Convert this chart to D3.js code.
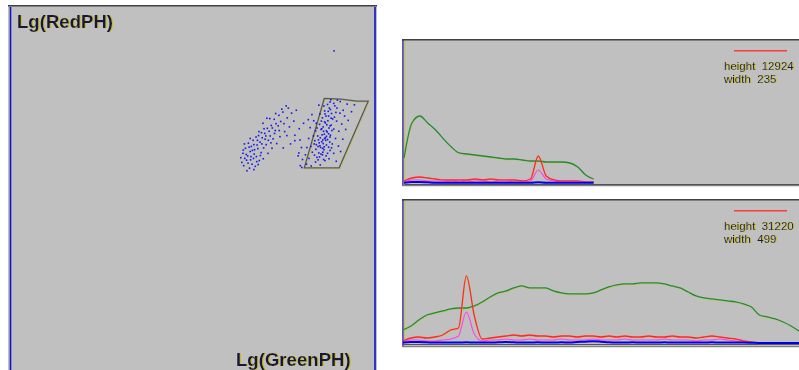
<!DOCTYPE html>
<html><head><meta charset="utf-8">
<script src="https://cdn.jsdelivr.net/npm/d3@7"></script>
<style>html,body{margin:0;padding:0;background:#fff;overflow:hidden}</style>
</head><body><svg id="c" width="799" height="370" xmlns="http://www.w3.org/2000/svg"></svg>
<script>
// ---------- DATA ----------
const xLabel = "Lg(GreenPH)";
const yLabel = "Lg(RedPH)";

// scatter (Lg(GreenPH), Lg(RedPH)) in % of full scale
const clusterA = [[64.1,55.9],[65.7,55.2],[63.6,56.8],[66.4,56.3],[64.9,57.4],[67.3,55.7],[65.2,58.6],[63.9,59.3],[66.8,57.9],[65.9,59.8],[67.6,58.4],[64.6,60.7],[66.2,61.2],[68.4,57.3],[67.1,60.3],[68.9,59.5],[65.4,62.1],[67.8,61.6],[69.6,60.8],[66.7,62.9],[68.6,62.4],[70.3,61.7],[64.3,61.9],[69.2,63.6],[67.5,63.8],[70.9,62.9],[71.4,64.1],[68.3,65.3],[69.9,64.8],[72.2,63.3],[70.6,66.2],[72.8,65.6],[71.7,67.0],[73.6,66.9],[69.4,67.6],[74.3,68.1],[72.5,68.7],[75.2,67.5],[73.8,69.8],[76.1,69.1],[74.9,70.7],[77.3,70.4],[76.4,71.8],[78.6,71.2],[75.8,72.4],[65.0,54.5],[66.9,54.8],[68.1,56.2],[69.5,57.8],[70.8,59.3],[71.9,60.7],[73.2,62.0],[74.1,63.9],[75.4,65.3],[76.7,66.6],[63.3,58.1],[64.8,59.0],[66.0,57.5],[67.0,59.1],[68.0,60.6],[69.1,61.9],[70.0,63.2],[71.1,65.4],[72.0,66.3],[73.0,67.5],[66.5,60.1],[65.6,61.0],[67.9,62.9],[69.7,66.1],[71.3,68.9],[72.9,70.3],[70.5,69.0],[74.6,71.5],[77.9,68.2],[76.0,64.2],[78.2,62.8],[79.4,66.1],[80.0,60.9],[79.1,58.6],[77.0,61.9],[75.0,60.8],[64.4,57.9],[65.3,56.6],[66.1,58.4],[67.7,57.0],[68.7,58.7],[66.9,61.7],[64.0,60.2],[65.9,63.4],[68.2,64.2],[69.0,65.0],[70.2,64.1],[71.6,62.2],[72.6,64.8],[73.9,65.6]];

const clusterB = [[81.4,56.3],[82.7,55.8],[83.9,56.9],[85.2,56.1],[86.5,57.3],[82.1,57.9],[84.3,58.2],[85.8,58.9],[87.6,57.8],[83.0,59.6],[84.8,59.4],[86.2,60.3],[87.9,60.1],[82.6,61.2],[84.1,61.7],[85.3,60.9],[86.9,61.6],[88.5,61.9],[83.7,62.8],[85.6,62.5],[87.2,63.1],[89.4,63.4],[84.5,64.1],[86.3,64.6],[88.0,64.3],[83.9,65.5],[85.4,65.9],[87.1,65.2],[88.9,66.0],[90.3,65.4],[85.0,67.3],[86.6,67.7],[88.2,67.1],[89.7,68.2],[91.1,67.4],[85.8,69.1],[87.5,69.6],[89.1,69.3],[90.6,70.4],[86.4,71.0],[88.0,71.4],[89.8,71.8],[91.5,71.2],[87.2,72.8],[88.9,73.1],[90.7,73.6],[92.6,72.9],[88.1,74.1],[89.9,74.0],
[84.6,57.5],[85.9,59.6],[86.8,58.6],[84.0,60.4],[85.1,61.4],[86.0,62.0],[86.7,62.9],[85.2,63.6],[86.4,63.4],[87.5,64.7],[86.1,65.4],[87.6,66.3],[86.0,66.6],[87.0,67.2],[88.6,68.8],[87.3,68.3],[86.5,70.2],[88.3,70.3],[84.9,62.2],[86.3,61.1],[87.8,62.4],[85.7,64.4],[84.3,66.3],[86.9,64.0],[88.4,65.6],[87.4,70.9],[89.2,72.4],[85.5,68.2],[84.7,63.0],[83.5,61.9],[83.3,64.1],[84.1,67.6],[85.1,70.2],[86.2,72.4],[87.9,73.5],
[88.9,59.3],[90.2,61.3],[91.4,63.2],[92.2,65.9],[92.9,68.4],[93.8,70.8],[94.6,72.7],[89.6,57.1],[90.8,59.8],[91.9,69.6],
[79.7,55.9],[80.3,57.6],[79.3,59.4],[81.1,58.9],[81.5,60.9],[80.1,55.4],[82.0,63.4],
[78.2,64.3],[79.6,63.0],[80.6,67.6],[81.9,68.6],[82.4,66.4],[82.9,70.0],[83.4,68.3],[84.8,72.6],
[85.4,59.1],[86.1,57.6],[87.2,59.3],[85.9,60.7],[84.6,61.2],[87.5,61.0],[86.6,63.6],[85.9,63.0],[87.9,63.8],[86.9,65.5],[85.6,66.1],[87.9,66.9],[86.4,68.0],[88.2,69.0],[86.8,69.6],[87.7,71.8],[89.5,70.6],[85.0,58.3],[83.6,58.8],[88.3,60.8]];

const outliers = [[89.0,87.6]];

// gate polygon vertices (same % units)
const gate = [[86.3,74.5],[90.9,74.3],[95.3,73.7],[98.4,73.7],[90.4,55.3],[80.8,55.3]];

// histogram 1 (bins 0..24 of 50)
const h1Height = 12924, h1Width = 235;
const h1Green = [2260,5424,6057,5424,4791,3978,3254,2712,2622,2531,2441,2350,2260,2170,2170,2079,1989,1989,1898,1898,1898,1808,1446,723,362];
const h1Red   = [181,452,542,452,362,271,271,271,271,362,271,362,271,271,271,181,362,2441,633,271,181,181,181,90,90];
const h1Pink  = [90,271,271,181,181,181,90,181,90,181,181,90,181,181,90,90,181,1175,362,181,90,90,90,90,60];
const h1Blue  = [30,90,90,60,30,30,30,30,30,30,30,30,30,30,30,30,30,60,30,30,30,30,30,30,30];

// histogram 2 (bins 0..50 of 50)
const h2Height = 31220, h2Width = 499;
const h2Green = [2860,3740,5060,6160,6600,7040,7480,7700,7700,8140,9020,10120,11000,11440,12100,12540,12100,12100,12100,11440,11000,10780,10780,10780,11000,11660,12320,12760,12980,12980,13200,13200,13200,12980,12540,12100,11220,10340,9900,9680,9460,9240,9020,8580,7920,6160,5720,5280,4620,3740,2640];
const h2Red   = [440,1100,1320,1100,1320,1760,2860,3300,14740,6000,880,1100,1320,1540,1760,1540,1760,1540,1540,1320,1540,1540,1320,1540,1540,1320,1540,1320,1540,1320,1320,1540,1320,1320,1540,1320,1320,1100,1320,1540,1320,1100,880,440,220,0,0,0,0,0,0];
const h2Pink  = [220,660,660,440,440,660,880,1540,6820,1980,440,660,660,880,660,660,880,660,660,660,880,660,660,660,880,660,660,660,880,660,660,660,660,880,660,660,660,440,660,660,880,660,440,220,100,0,0,0,0,0,0];
const h2Blue  = [100,200,200,150,100,100,100,100,150,100,100,100,150,200,150,100,100,150,100,100,150,100,200,300,400,300,150,100,100,150,100,100,100,150,100,100,100,100,100,150,100,100,100,100,60,0,0,0,0,0,0];

// ---------- DRAWING ----------
const svg = d3.select("#c");
const FONT = "'Liberation Sans', Arial, sans-serif";
const GRAY = "#c0c0c0";

const defs = svg.append("defs");
const f = defs.append("filter").attr("id", "fringe").attr("x", "-5%").attr("y", "-20%").attr("width", "115%").attr("height", "140%");
f.append("feFlood").attr("flood-color", "#c8c000").attr("result", "fl");
f.append("feComposite").attr("in", "fl").attr("in2", "SourceAlpha").attr("operator", "in").attr("result", "sh");
f.append("feOffset").attr("in", "sh").attr("dx", 0.8).attr("dy", 0.3).attr("result", "of");
const fm = f.append("feMerge");
fm.append("feMergeNode").attr("in", "of");
fm.append("feMergeNode").attr("in", "SourceGraphic");

function panel(x0, y0, x1, y1) {
  const g = svg.append("g");
  g.append("rect").attr("x", x0).attr("y", y0).attr("width", x1 - x0).attr("height", y1 - y0).attr("fill", GRAY);
  g.append("line").attr("x1", x0).attr("x2", x1).attr("y1", y0 + 0.5).attr("y2", y0 + 0.5).attr("stroke", "#404040");
  g.append("line").attr("x1", x0).attr("x2", x1).attr("y1", y0 + 1.5).attr("y2", y0 + 1.5).attr("stroke", "#808080");
  return g;
}

// ---- left scatter panel ----
const L = {x0: 8, y0: 5, x1: 377, y1: 372};
panel(L.x0, L.y0, L.x1, L.y1);
svg.append("line").attr("x1", 10.5).attr("x2", 10.5).attr("y1", L.y0 + 2).attr("y2", 370).attr("stroke", "#1010d0").attr("stroke-width", 1.6);
svg.append("line").attr("x1", 375).attr("x2", 375).attr("y1", L.y0 + 2).attr("y2", 370).attr("stroke", "#1010d0").attr("stroke-width", 1.6);

const sx = d3.scaleLinear().domain([0, 100]).range([11, 374]);
const sy = d3.scaleLinear().domain([0, 100]).range([368, 6]);

function label(g, x, y, txt, size, weight, color) {
  return g.append("text").attr("x", x).attr("y", y).text(txt)
    .attr("font-family", FONT).attr("font-size", size).attr("font-weight", weight)
    .attr("fill", color).attr("filter", "url(#fringe)").style("white-space", "pre");
}
label(svg, 17, 28, yLabel, 18.6, "bold", "#181840");
label(svg, 236, 366, xLabel, 18.6, "bold", "#181840");

// gate
const gatePath = d3.line().x(d => sx(d[0])).y(d => sy(d[1])).curve(d3.curveLinearClosed);
svg.append("path").attr("d", gatePath(gate)).attr("fill", "none").attr("stroke", "#c8c000").attr("stroke-width", 0.8).attr("opacity", 0.6).attr("transform", "translate(0.9,0.9)");
svg.append("path").attr("d", gatePath(gate)).attr("fill", "none").attr("stroke", "#585858").attr("stroke-width", 1.3);

const allPts = clusterA.concat(clusterB, outliers);
svg.append("g").selectAll("rect").data(allPts).join("rect")
  .attr("x", d => sx(d[0]) - 0.8).attr("y", d => sy(d[1]) - 0.8)
  .attr("width", 1.6).attr("height", 1.6).attr("fill", "#1818e8");

// ---- histogram panels ----
function histPanel(cfg) {
  const {x0, y0, y1, base, top, left, height, width, green, red, pink, blue, legendY, textY} = cfg;
  const g = panel(x0, y0, 800, y1);
  g.append("line").attr("x1", x0 + 1).attr("x2", x0 + 1).attr("y1", y0 + 1).attr("y2", y1).attr("stroke", "#1010d0").attr("stroke-width", 1.2);
  g.append("line").attr("x1", x0 + 2.2).attr("x2", x0 + 2.2).attr("y1", y0 + 2).attr("y2", y1 - 1).attr("stroke", "#c8c000").attr("stroke-width", 0.8);
  g.append("line").attr("x1", x0).attr("x2", 800).attr("y1", y1 - 0.5).attr("y2", y1 - 0.5).attr("stroke", "#808080");
  svg.append("line").attr("x1", x0).attr("x2", 800).attr("y1", y1 + 0.5).attr("y2", y1 + 0.5).attr("stroke", "#e0e0e0");

  const x = d3.scaleLinear().domain([0, 50]).range([left, 799]);
  const y = d3.scaleLinear().domain([0, height]).range([base, top]);

  const ax = g.append("g").attr("transform", `translate(0,${base + 1})`)
    .call(d3.axisBottom(x).ticks(0).tickSizeOuter(0));
  ax.select(".domain").attr("stroke", "#505058").attr("stroke-width", 1);

  const line = d3.line().x((d, i) => x(i)).y(d => y(d)).curve(d3.curveMonotoneX);
  function series(data, color, w, fringe) {
    if (fringe) g.append("path").attr("d", line(data)).attr("fill", "none").attr("stroke", fringe)
      .attr("stroke-width", 0.9).attr("transform", "translate(0.6,0.8)").attr("opacity", 0.55);
    g.append("path").attr("d", line(data)).attr("fill", "none").attr("stroke", color).attr("stroke-width", w);
  }
  series(green, "#248a36", 1.3, "#c8c800");
  series(red, "#ff2828", 1.3, "#d8c000");
  series(pink, "#ff40e8", 1.1, null);
  series(blue, "#0000f0", 2, null);

  g.append("line").attr("x1", 734).attr("x2", 787).attr("y1", legendY).attr("y2", legendY).attr("stroke", "#ff3a3a").attr("stroke-width", 1.4);
  label(g, 724, textY, "height  " + height, 11.5, "normal", "#14144a");
  label(g, 724, textY + 13, "width  " + width, 11.5, "normal", "#14144a");
}

histPanel({x0: 402, y0: 39, y1: 186, base: 183, top: 40, left: 404, height: h1Height, width: h1Width,
  green: h1Green, red: h1Red, pink: h1Pink, blue: h1Blue, legendY: 50.7, textY: 69.5});
histPanel({x0: 402, y0: 199, y1: 347, base: 343, top: 201, left: 403, height: h2Height, width: h2Width,
  green: h2Green, red: h2Red, pink: h2Pink, blue: h2Blue, legendY: 210.7, textY: 229.5});
</script></body></html>
